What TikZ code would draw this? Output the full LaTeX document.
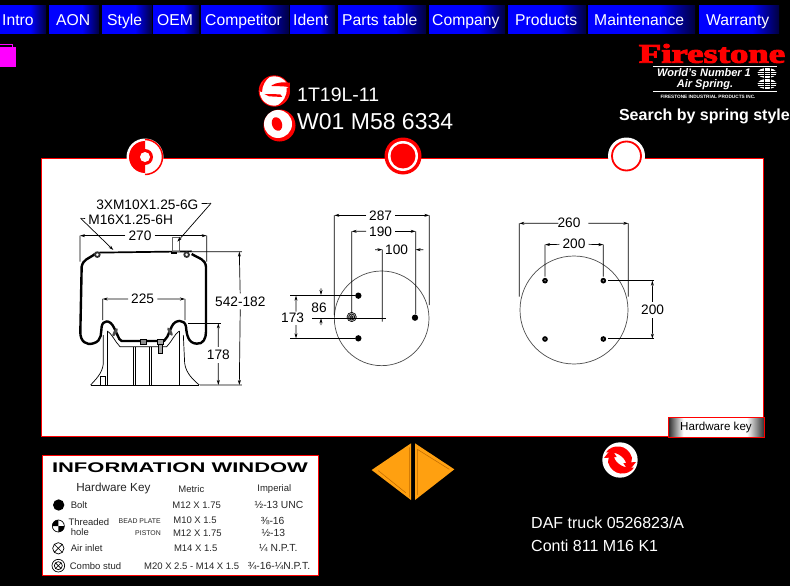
\documentclass[tikz,border=0pt]{standalone}
\usepackage{fontspec}
\setmainfont{Liberation Sans}
\newfontfamily\logofont[BoldFeatures={FakeBold=3.5}]{Liberation Serif}
\usetikzlibrary{arrows.meta}
\newcommand{\fsize}[1]{\fontsize{#1}{#1}\selectfont}
\pgfdeclarehorizontalshading{menufade}{100bp}{color(0bp)=(blue); color(58bp)=(blue); color(75bp)=(blue!25!black); color(100bp)=(black)}
\pgfdeclarehorizontalshading{keyfade}{100bp}{color(0bp)=(black); color(25bp)=(black!85); color(33bp)=(white); color(66bp)=(white); color(75bp)=(black!80); color(100bp)=(black)}
\definecolor{arroworange}{RGB}{255,160,16}
\definecolor{arrowedge}{RGB}{190,105,0}
\definecolor{folderpink}{RGB}{255,0,255}
\tikzset{
  menutext/.style={anchor=base west,inner sep=0pt,text=white,font=\fsize{15.7}},
  bigtext/.style={anchor=base west,inner sep=0pt,text=white},
  dimtext/.style={inner sep=3pt,font=\fsize{13.7}},
  dimline/.style={-{Stealth[length=5pt,width=3pt]},line width=.7pt},
  extline/.style={line width=.7pt},
  keytext/.style={inner sep=0pt,text=black!85,font=\fsize{9.5}},
  keyleft/.style={keytext,anchor=west},
}

\begin{document}
\begin{tikzpicture}[x=1pt,y=-1pt]
  \useasboundingbox (0,0) rectangle (790,586);
  \fill[black] (0,0) rectangle (790,586);

  % menu bar
  \foreach \nm/\xa/\xb/\xt/\lbl in {intro/0/46/2/Intro,aon/49/99/56/AON,style/102/152/107/Style,oem/153/199/157/OEM,
      competitor/201/289/205/Competitor,ident/290/335/293/Ident,parts/338/426/342/Parts table,company/429/505/432/Company,
      products/508/586/515/Products,maint/588/695/594/Maintenance,warranty/699/779/706/Warranty}{
    \shade[shading=menufade] (\xa,6) rectangle (\xb,34);
    \node[menutext] (\nm) at (\xt,25.5) {\lbl};
  }

  % folder
  \fill[folderpink] (0,47) -- (16,47) -- (16,67) -- (0,67) -- cycle;
  \draw[folderpink,line width=.8pt] (0,44) -- (12,44) -- (12,47);

  % S and O badges
  \begin{scope}[shift={(255,72)},scale=1/3]
    \fill[red] (58,57) circle[radius=47];
    \fill[white] (58,57) circle[radius=44];
    \fill[red] (50,40) .. controls (65,30) and (90,30) .. (105,32) -- (104,46) .. controls (90,42) and (70,43) .. (50,42) -- cycle;
    \fill[red] (28,66) -- (76,67) -- (82,75) -- (42,73) -- cycle;
    \fill[red] (103,45) .. controls (108,70) and (90,100) .. (62,103) .. controls (85,92) and (98,70) .. (95,48) -- cycle;
    \fill[red] (13,58) .. controls (14,35) and (28,18) .. (48,11) .. controls (30,24) and (22,40) .. (21,60) -- cycle;
  \end{scope}
  \fill[red] (279.5,125.5) circle[radius=16];
  \fill[white] (278,124) circle[radius=14];
  \fill[red,rotate around={20:(277,124)}] (277,124) ellipse[x radius=5,y radius=7];
  \node[bigtext,font=\fsize{19.5}] (stylecode) at (297,101) {1T19L-11};
  \node[bigtext,font=\fsize{23}] (partcode) at (297,129) {W01 M58 6334};

  % logo
  \node[inner sep=0pt,text=red] (logo) at (712,53.5) {\logofont\bfseries\fsize{27}\scalebox{1.36}[1]{Firestone}};
  \draw[white,line width=.8pt] (653,66.5) -- (777,66.5) (653,91) -- (777,91);
  \node[inner sep=0pt,text=white,font=\fsize{11}\bfseries\itshape] (slogana) at (704,73) {World's Number 1};
  \node[inner sep=0pt,text=white,font=\fsize{11}\bfseries\itshape] (sloganb) at (705,85) {Air Spring.};
  \node[inner sep=0pt,text=white,font=\fsize{4.7}\bfseries] (slogansub) at (708,97) {FIRESTONE INDUSTRIAL PRODUCTS INC.};
  \foreach \ty in {73,84}{
    \fill[white] (767,\ty) ellipse[x radius=9.5,y radius=5];
    \draw[black,line width=.4pt] (757,\ty-2) -- (777,\ty-2) (757,\ty) -- (777,\ty) (757,\ty+2) -- (777,\ty+2)
      (764,\ty-5) -- (764,\ty+5) (770,\ty-5) -- (770,\ty+5);
  }
  \node[inner sep=0pt,anchor=base east,text=white,font=\fsize{16}\bfseries] (search) at (790,120.5) {Search by spring style};

  % main panel
  \draw[red,fill=white,line width=1.3pt] (41.5,158.5) rectangle (763.5,436.5);

  % view tabs
  \fill[white] (145,157) circle[radius=18.5];
  \fill[red] (145,173) arc[start angle=90,end angle=270,radius=16] -- cycle;
  \draw[red,line width=1.5pt] (145,139.5) arc[start angle=-90,end angle=90,radius=17.5];
  \fill[red] (145,149) arc[start angle=-90,end angle=90,radius=8] -- cycle;
  \fill[white] (145,157) circle[radius=5];
  \fill[red] (403,156) circle[radius=18.5];
  \fill[white] (403,156) circle[radius=15];
  \fill[red] (403,156) circle[radius=12.5];
  \fill[white] (626.5,156) circle[radius=18.5];
  \draw[red,line width=1.8pt] (626.5,156) circle[radius=14.5];

  % spring side view
  \begin{scope}[shift={(60,185)},scale=1/3]
    \draw[line width=2.4pt,line join=round]
      (105,207) .. controls (85,222) and (70,222) .. (65,245) -- (61,440)
      .. controls (60,470) and (80,482) .. (100,475) .. controls (128,468) and (122,440) .. (125,425)
      .. controls (128,405) and (150,402) .. (162,428) -- (178,462) -- (185,468) -- (312,468)
      -- (322,455) -- (335,425) .. controls (345,402) and (375,402) .. (378,425)
      .. controls (380,450) and (385,475) .. (410,476) .. controls (430,478) and (438,460) .. (438,440)
      -- (438,245) .. controls (435,222) and (420,222) .. (395,207);
    \draw[line width=1.7pt] (105,203) -- (395,199);
    \draw[line width=1.8pt,draw=black!80,fill=white] (112,209) circle[radius=7] (380,209) circle[radius=7];
    \fill[black] (332,199) rectangle (352,207);
    \draw[line width=.5pt,draw=black!60] (338,158) rectangle (358,200);
    % piston
    \draw[line width=.8pt] (92,600) -- (418,600);
    \draw[line width=.7pt] (130,450) -- (130,535) .. controls (128,565) and (105,585) .. (92,600);
    \draw[line width=.7pt] (370,450) -- (374,535) .. controls (378,565) and (400,585) .. (418,600);
    \draw[line width=.7pt] (142,438) -- (142,600) (358,438) -- (358,600);
    \draw[line width=.7pt] (142,438) .. controls (155,445) and (165,470) .. (180,485) -- (320,485) .. controls (335,470) and (345,445) .. (358,438);
    \draw[line width=.9pt] (220,485) -- (220,600) (227,485) -- (227,600) (267,485) -- (267,600) (275,485) -- (275,600);
    \draw[line width=.6pt] (122,600) -- (122,575) -- (136,575) -- (136,600);
    \draw[line width=.8pt,fill=black!45] (240,464) rectangle (258,477);
    \draw[line width=.8pt,fill=black!35] (292,463) rectangle (310,478) (296,478) rectangle (306,505);
    \fill[black!70,rotate around={60:(165,442)}] (165,442) ellipse[x radius=14,y radius=5];
    \fill[black!70,rotate around={-60:(330,440)}] (330,440) ellipse[x radius=14,y radius=5];
    % dimensions
    \node[dimtext] (studlbl) at (262,58) {3XM10X1.25-6G};
    \node[dimtext] (threadlbl) at (212,103) {M16X1.25-6H};
    \coordinate (studtip) at (352,170);
    \coordinate (studbend) at (453,55);
    \coordinate (threadtip) at (160,195);
    \coordinate (threadbend) at (62,100);
    \draw[extline] (studlbl) -- (studbend);
    \draw[dimline] (studbend) -- (studtip);
    \draw[extline] (threadlbl) -- (threadbend);
    \draw[dimline] (threadbend) -- (threadtip);
    \node[dimtext] (w270) at (240,152) {270};
    \coordinate (w270l) at (60,152);
    \coordinate (w270r) at (440,152);
    \draw[dimline] (w270) -- (w270l);
    \draw[dimline] (w270) -- (w270r);
    \draw[extline] (w270l) -- (60,230) (w270r) -- (440,230);
    \node[dimtext] (w225) at (248,342) {225};
    \coordinate (w225l) at (128,342);
    \coordinate (w225r) at (375,342);
    \draw[dimline] (w225) -- (w225l);
    \draw[dimline] (w225) -- (w225r);
    \draw[extline] (w225l) -- (128,405) (w225r) -- (375,405);
    \node[dimtext] (h542) at (541,349) {542-182};
    \coordinate (h542t) at (538,200);
    \coordinate (h542b) at (538,600);
    \draw[dimline] (h542) -- (h542t);
    \draw[dimline] (h542) -- (h542b);
    \draw[extline] (390,200) -- (h542t) -- (546,200) (420,600) -- (546,600);
    \node[dimtext] (h178) at (475,510) {178};
    \coordinate (h178t) at (475,415);
    \coordinate (h178b) at (475,600);
    \draw[dimline] (h178) -- (h178t);
    \draw[dimline] (h178) -- (h178b);
    \draw[extline] (385,415) -- (482,415);
  \end{scope}

  % bead plate, three studs
  \begin{scope}[shift={(280,200)},scale=1/3]
    \draw[black!70,line width=.7pt] (305,355) circle[radius=142];
    \fill[black] (235,287) circle[radius=9.5] (235,415) circle[radius=9.5] (405,353) circle[radius=9.5];
    \draw[black,line width=.6pt,fill=black!30] (215,351) circle[radius=14];
    \draw[black,line width=.6pt] (215,351) circle[radius=9] (215,351) circle[radius=4];
    \node[dimtext] (w287) at (302,46) {287};
    \coordinate (w287l) at (163,46);
    \coordinate (w287r) at (448,46);
    \draw[dimline] (w287) -- (w287l);
    \draw[dimline] (w287) -- (w287r);
    \draw[extline] (w287l) -- (163,345) (w287r) -- (448,315);
    \node[dimtext] (w190) at (302,94) {190};
    \coordinate (w190l) at (215,94);
    \coordinate (w190r) at (407,94);
    \draw[dimline] (w190) -- (w190l);
    \draw[dimline] (w190) -- (w190r);
    \draw[extline] (w190l) -- (215,338) (w190r) -- (407,343);
    \node[dimtext] (w100) at (350,149) {100};
    \coordinate (w100l) at (307,149);
    \coordinate (w100r) at (407,149);
    \draw[dimline] (285,149) -- (w100l);
    \draw[dimline] (430,149) -- (w100r);
    \draw[extline] (w100l) -- (307,365);
    \draw[extline] (97,354) -- (317,354);
    \node[dimtext] (h173) at (38,353) {173};
    \coordinate (h173t) at (48,287);
    \coordinate (h173b) at (48,415);
    \draw[dimline] (48,335) -- (h173t);
    \draw[dimline] (48,375) -- (h173b);
    \draw[extline] (30,287) -- (225,287) (30,415) -- (225,415);
    \node[dimtext] (h86) at (117,322) {86};
    \coordinate (h86t) at (123,285);
    \coordinate (h86b) at (123,355);
    \draw[dimline] (123,265) -- (h86t);
    \draw[dimline] (123,375) -- (h86b);
  \end{scope}

  % piston, four holes
  \begin{scope}[shift={(500,200)},scale=1/3]
    \draw[black!70,line width=.7pt] (222,330) circle[radius=162];
    \foreach \hx in {135,310}{
      \foreach \hy in {242,417}{
        \fill[black] (\hx,\hy) circle[radius=8.5];
        \fill[black!45] (\hx,\hy) circle[radius=2.5];
      }
    }
    \node[dimtext] (w260) at (207,67) {260};
    \coordinate (w260l) at (58,70);
    \coordinate (w260r) at (385,70);
    \draw[dimline] (175,70) -- (w260l);
    \draw[dimline] (265,70) -- (w260r);
    \draw[extline] (w260l) -- (58,290) (w260r) -- (385,290);
    \node[dimtext] (w200) at (222,132) {200};
    \coordinate (w200l) at (135,134);
    \coordinate (w200r) at (310,134);
    \draw[dimline] (w200) -- (w200l);
    \draw[dimline] (w200) -- (w200r);
    \draw[extline] (w200l) -- (135,230) (w200r) -- (310,230);
    \node[dimtext] (h200) at (458,330) {200};
    \coordinate (h200t) at (457,242);
    \coordinate (h200b) at (457,416);
    \draw[dimline] (h200) -- (h200t);
    \draw[dimline] (h200) -- (h200b);
    \draw[extline] (325,241) -- (462,241) (325,415) -- (462,415);
  \end{scope}

  % hardware key button
  \shade[shading=keyfade] (668,417) rectangle (764,437);
  \draw[red,line width=1pt] (668,417) rectangle (764,437);
  \node[inner sep=0pt,text=black,font=\fsize{11.6}] (hwkey) at (716,427) {Hardware key};

  % information window
  \begin{scope}[shift={(30,450)},scale=1/3]
    \draw[red,fill=white,line width=1pt] (37,15) rectangle (866,377);
    \node[inner sep=0pt,text=black,font=\fsize{14}\bfseries] (infotitle) at (450,53) {\scalebox{1.57}[1]{INFORMATION WINDOW}};
    \node[keytext,font=\fsize{11.7}] (keyhead) at (250,115) {Hardware Key};
    \node[keytext] (methead) at (484,118) {Metric};
    \node[keytext] (imphead) at (733,118) {Imperial};
    \fill[black] (86,165) circle[radius=17];
    \node[keyleft] (bolt) at (122,165) {Bolt};
    \node[keytext] (boltm) at (500,166) {M12 X 1.75};
    \node[keytext,font=\fsize{10.3}] (bolti) at (747,165) {½-13 UNC};
    \draw[black,line width=.7pt] (85,228) circle[radius=18];
    \fill[black] (85,228) -- (85,210) arc[start angle=-90,end angle=-180,radius=18] -- cycle;
    \fill[black] (85,228) -- (85,246) arc[start angle=90,end angle=0,radius=18] -- cycle;
    \node[keyleft] (thread) at (115,216) {Threaded};
    \node[keyleft] (hole) at (122,245) {hole};
    \node[keytext,anchor=east,font=\fsize{6.9}] (beadplate) at (393,212) {BEAD PLATE};
    \node[keytext,anchor=east,font=\fsize{6.9}] (piston) at (393,250) {PISTON};
    \node[keytext] (beadm) at (495,212) {M10 X 1.5};
    \node[keytext] (pistm) at (502,250) {M12 X 1.75};
    \node[keytext,font=\fsize{10.3}] (beadi) at (728,212) {⅜-16};
    \node[keytext,font=\fsize{10.3}] (pisti) at (730,250) {½-13};
    \draw[black,line width=.7pt] (85,295) circle[radius=17] (73,283) -- (97,307) (73,307) -- (97,283);
    \node[keyleft] (airinlet) at (122,295) {Air inlet};
    \node[keytext] (airm) at (497,296) {M14 X 1.5};
    \node[keytext,font=\fsize{10.3}] (airi) at (745,295) {¼ N.P.T.};
    \draw[black,line width=.7pt] (85,347) circle[radius=19] (85,347) circle[radius=12] (77,339) -- (93,355) (77,355) -- (93,339);
    \node[keyleft] (combo) at (119,347) {Combo stud};
    \node[keytext] (combom) at (485,348) {M20 X 2.5 - M14 X 1.5};
    \node[keytext,font=\fsize{10.3}] (comboi) at (747,348) {¾-16-¼N.P.T.};
  \end{scope}

  % nav arrows
  \begin{scope}[shift={(360,410)},scale=1/3]
    \fill[arroworange] (35,180) -- (153,100) -- (153,270) -- cycle;
    \fill[arroworange] (165,100) -- (283,178) -- (165,270) -- cycle;
    \draw[arrowedge,line width=.5pt] (55,182) -- (137,248) (148,112) -- (148,262);
    \draw[arrowedge,line width=.5pt] (172,118) -- (172,255) (172,118) -- (268,178);
  \end{scope}

  % refresh
  \begin{scope}[shift={(596,441)},scale=1/3]
    \fill[white] (72,57) circle[radius=53];
    \foreach \rot in {0,180}{
      \fill[red,rotate around={\rot:(72,57)}] (30,34) .. controls (48,8) and (95,8) .. (108,50) -- (106,64) -- (120,63) -- (98,91) -- (82,66) -- (90,66) .. controls (85,48) and (62,30) .. (30,34) -- cycle;
    }
  \end{scope}

  \node[bigtext,font=\fsize{16}] (daf) at (531,528.5) {DAF truck 0526823/A};
  \node[bigtext,font=\fsize{16}] (conti) at (531,551) {Conti 811 M16 K1};
\end{tikzpicture}
\end{document}
